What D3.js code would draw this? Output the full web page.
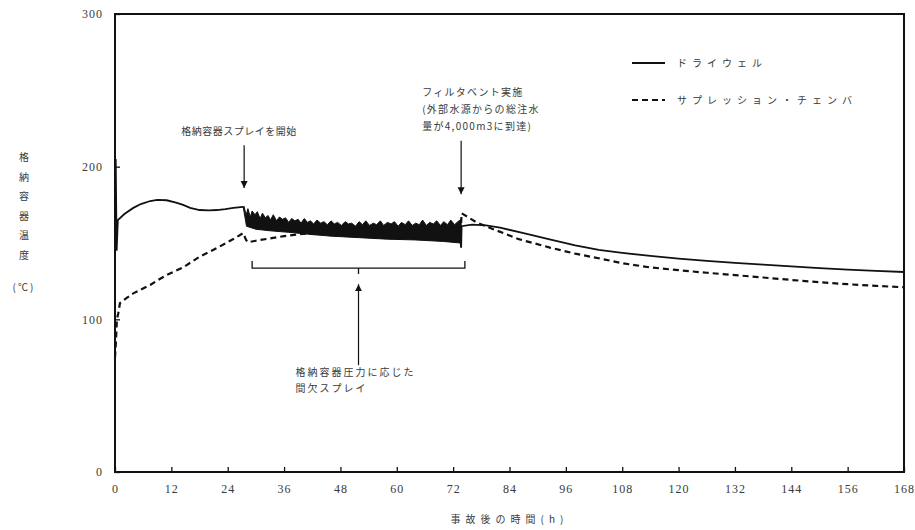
<!DOCTYPE html>
<html>
<head>
<meta charset="utf-8">
<script src="https://cdn.jsdelivr.net/npm/d3@7"></script>
<style>
body{margin:0;background:#fff}
text{fill:#3a3a3a}
.jp{font-family:"Noto Sans CJK JP";font-size:10px}
.num{font-family:"Liberation Serif";font-size:12px}
</style>
</head>
<body>
<svg id="chart" width="915" height="530"></svg>
<script>
// time (h), temperature (C)
var xTicks = [0, 12, 24, 36, 48, 60, 72, 84, 96, 108, 120, 132, 144, 156, 168]
var yTicks = [0, 100, 200, 300]

var drywellBefore = [[0,150],[0.15,205],[0.35,145],[0.6,165],[2,169],[3.9,173],[5.5,175.5],[7.5,177.5],[9,178.2],[11,178],[13,176.5],[14.5,175],[16,173],[18,171.6],[20,171.4],[21.7,171.6],[23.5,172.2],[25.2,173],[27.3,173.6]]

// intermittent spray: the dense oscillation band (upper peaks and lower troughs)
var sprayUpper = [[27.3,173.6],[27.5,174],[27.9,168],[28.3,172.5],[28.8,167],[29.2,171],[29.8,168.5],[30.3,170.5],[30.9,166],[31.4,169.5],[32,166.5],[32.6,168],[33.1,165],[33.7,168.5],[34.4,164.5],[35,167],[35.7,165.5],[36.3,166.5],[37,163.5],[37.6,166],[38.3,164.5],[39,165.5],[39.6,163],[40.3,166],[41,163.5],[41.6,164.5],[42.3,162.5],[43,165],[43.8,163],[44.5,164],[45.2,162],[46,164.5],[46.7,162.5],[47.4,163.5],[48.2,161.5],[49,164],[49.7,162.5],[50.4,163],[51.2,161],[52,164],[52.7,162],[53.4,164.5],[54.2,161.5],[55,163],[55.7,162],[56.5,164.5],[57.2,161.5],[58,163.5],[58.8,162.5],[59.5,164],[60.3,161],[61,163.5],[61.8,162],[62.5,164.5],[63.3,161.5],[64,163],[64.8,162],[65.5,165],[66.3,161.5],[67,163.5],[67.8,162.5],[68.5,164.5],[69.3,161.5],[70,164],[70.8,162],[71.5,165],[72.3,162],[73,164],[73.7,165.5]]
var sprayLower = [[27.5,170],[28,161],[30,159],[33,158],[37,157],[42,155.5],[46,154.5],[52,153.5],[58,152.5],[64,152],[70,151],[73.5,150],[73.7,147]]

var drywellAfter = [[73.7,147],[73.8,161],[76,162],[79,161.5],[82,160],[87,156.5],[93,152],[98,148.5],[103,145.5],[108,143.5],[114,141.5],[120,139.8],[126,138.3],[132,137],[138,135.8],[144,134.7],[150,133.6],[156,132.6],[162,131.8],[168,131]]

var wetwell = [[0,75],[0.2,85],[0.4,100],[0.7,104],[1.06,110.7],[2.5,114],[3.9,117],[5.5,119.5],[7.5,122.5],[9,125.5],[11,129],[14.5,134],[18,141],[21.7,146.7],[25.2,152.6],[27.3,156.5],[27.9,152],[28.3,150.5],[30,151.5],[33,153],[36,154.5],[40,156],[48,156.5],[60,157],[73.6,157],[73.8,169.5],[77,163.5],[81,158.5],[86,152.5],[92.6,147],[98,143],[103,140],[108,136.8],[114,134],[120,132.2],[126,130.5],[132,129],[138,127.4],[144,125.8],[150,124.3],[156,123],[162,121.9],[168,121]]

var sprayStart = 27.5
var ventTime = 73.7
var intermittent = [29.2, 74.5]

var legendNames = ['ドライウェル', 'サプレッション・チェンバ']
var sprayLabel = '格納容器スプレイを開始'
var ventLabel = ['フィルタベント実施', '(外部水源からの総注水', '量が4,000m3に到達)']
var intermittentLabel = ['格納容器圧力に応じた', '間欠スプレイ']
var yTitle = ['格', '納', '容', '器', '温', '度']

var margin = {top: 14, left: 115, right: 11, bottom: 58}
var width = 915 - margin.left - margin.right
var height = 530 - margin.top - margin.bottom

var svg = d3.select('#chart')
var g = svg.append('g').attr('transform', 'translate(' + margin.left + ',' + margin.top + ')')

var x = d3.scaleLinear().domain([0, 168]).range([0, width])
var y = d3.scaleLinear().domain([0, 300]).range([height, 0])

svg.append('defs').append('marker')
  .attr('id', 'head')
  .attr('viewBox', '0 0 10 10')
  .attr('refX', 10).attr('refY', 5)
  .attr('markerWidth', 7).attr('markerHeight', 8)
  .attr('markerUnits', 'userSpaceOnUse')
  .attr('orient', 'auto')
  .append('path').attr('d', 'M0,0L10,5L0,10Z').attr('fill', '#111')

var xAxis = g.append('g')
  .attr('transform', 'translate(0,' + height + ')')
  .call(d3.axisBottom(x).tickValues(xTicks).tickSize(-5).tickPadding(12))
xAxis.select('.domain').remove()
xAxis.selectAll('text').attr('class', 'num').attr('letter-spacing', 1)

var yAxis = g.append('g')
  .call(d3.axisLeft(y).tickValues(yTicks).tickSize(-5).tickPadding(12))
yAxis.select('.domain').remove()
yAxis.selectAll('text').attr('class', 'num').attr('letter-spacing', 1)
g.selectAll('.tick line').attr('stroke', '#111').attr('stroke-width', 1.3)

g.append('rect')
  .attr('width', width).attr('height', height)
  .attr('fill', 'none').attr('stroke', '#111').attr('stroke-width', 2)

var line = d3.line().x(d => x(d[0])).y(d => y(d[1]))

g.append('path')
  .attr('d', line(wetwell))
  .attr('fill', 'none').attr('stroke', '#111')
  .attr('stroke-width', 2.2).attr('stroke-dasharray', '6,4')

g.append('path')
  .attr('d', line(sprayUpper.concat(sprayLower.slice().reverse())) + 'Z')
  .attr('fill', '#111').attr('stroke', '#111').attr('stroke-width', 1)

g.selectAll('path.drywell')
  .data([drywellBefore, drywellAfter])
  .enter().append('path')
  .attr('class', 'drywell')
  .attr('d', line)
  .attr('fill', 'none').attr('stroke', '#111').attr('stroke-width', 1.8)

// legend
var legend = g.append('g').attr('transform', 'translate(' + (632 - margin.left) + ',' + (63 - margin.top) + ')')
legend.selectAll('line')
  .data(legendNames)
  .enter().append('line')
  .attr('x1', 0).attr('x2', 33)
  .attr('y1', (d, i) => i * 37).attr('y2', (d, i) => i * 37)
  .attr('stroke', '#111').attr('stroke-width', 2)
  .attr('stroke-dasharray', (d, i) => i ? '6,4' : null)
legend.selectAll('text')
  .data(legendNames)
  .enter().append('text')
  .attr('class', 'jp')
  .attr('x', 45).attr('y', (d, i) => i * 37 + 4)
  .attr('letter-spacing', 5)
  .text(d => d)

// spray start arrow
g.append('line')
  .attr('x1', x(sprayStart)).attr('x2', x(sprayStart))
  .attr('y1', y(214)).attr('y2', y(186))
  .attr('stroke', '#111').attr('stroke-width', 1.2)
  .attr('marker-end', 'url(#head)')
g.append('text')
  .attr('class', 'jp')
  .attr('x', x(sprayStart) - 63).attr('y', y(221))
  .attr('letter-spacing', 0.5)
  .text(sprayLabel)

// vent arrow
g.append('line')
  .attr('x1', x(ventTime)).attr('x2', x(ventTime))
  .attr('y1', y(217)).attr('y2', y(182))
  .attr('stroke', '#111').attr('stroke-width', 1.2)
  .attr('marker-end', 'url(#head)')
g.selectAll('text.vent')
  .data(ventLabel)
  .enter().append('text')
  .attr('class', 'jp vent')
  .attr('x', x(ventTime) - 39)
  .attr('y', (d, i) => y(246) + i * 17)
  .attr('letter-spacing', 1.3)
  .text(d => d)

// intermittent spray bracket
var bx0 = x(intermittent[0]), bx1 = x(intermittent[1]), by = y(133.6)
var bmid = (bx0 + bx1) / 2
g.append('path')
  .attr('d', 'M' + bx0 + ',' + (by - 7) + 'V' + by + 'H' + bx1 + 'V' + (by - 7) + 'M' + bmid + ',' + by + 'v6')
  .attr('fill', 'none').attr('stroke', '#111').attr('stroke-width', 1.3)
g.append('line')
  .attr('x1', bmid).attr('x2', bmid)
  .attr('y1', y(70)).attr('y2', y(123))
  .attr('stroke', '#111').attr('stroke-width', 1.2)
  .attr('marker-end', 'url(#head)')
g.selectAll('text.inter')
  .data(intermittentLabel)
  .enter().append('text')
  .attr('class', 'jp inter')
  .attr('x', bmid - 63)
  .attr('y', (d, i) => y(63) + i * 16)
  .attr('letter-spacing', 2)
  .text(d => d)

// axis titles
svg.append('text')
  .attr('class', 'jp')
  .attr('x', margin.left + width / 2).attr('y', 523)
  .attr('text-anchor', 'middle')
  .attr('font-size', 11).attr('letter-spacing', 5)
  .text('事故後の時間(h)')

svg.selectAll('text.ytitle')
  .data(yTitle)
  .enter().append('text')
  .attr('class', 'jp ytitle')
  .attr('x', 24).attr('y', (d, i) => 161 + i * 19.6)
  .attr('text-anchor', 'middle')
  .attr('font-size', 11)
  .text(d => d)
svg.append('text')
  .attr('class', 'jp')
  .attr('x', 24).attr('y', 291)
  .attr('text-anchor', 'middle')
  .attr('font-size', 11).attr('letter-spacing', 2)
  .text('(℃)')
</script>
</body>
</html>
